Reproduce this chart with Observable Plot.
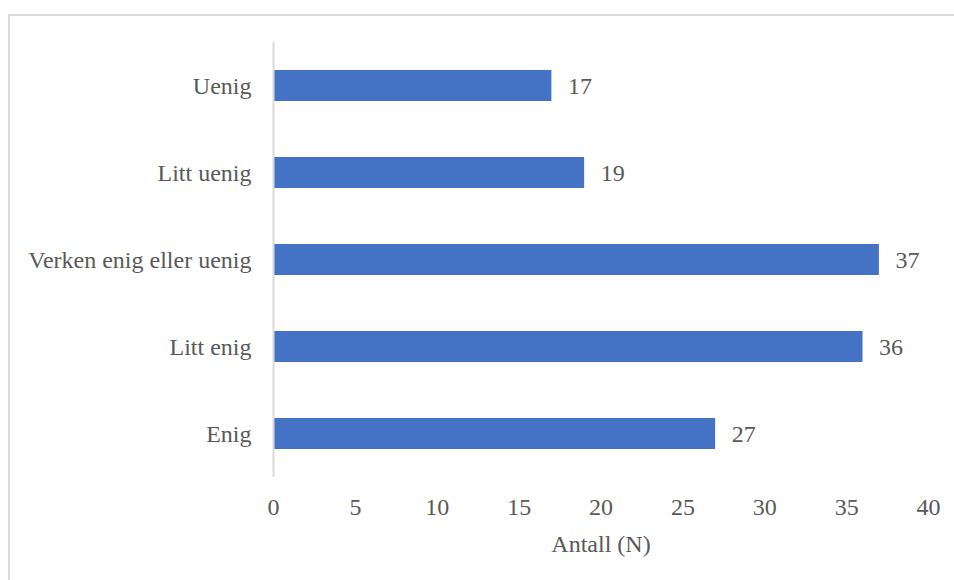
<!DOCTYPE html>
<html>
<head>
<meta charset="utf-8">
<script src="https://cdn.jsdelivr.net/npm/d3@7"></script>
<script src="https://cdn.jsdelivr.net/npm/@observablehq/plot@0.6"></script>
<style>
  html, body { margin: 0; padding: 0; background: #fff; overflow: hidden; }
  #wrap { position: relative; width: 954px; height: 580px; }
  #frame {
    position: absolute; left: 8px; top: 14px; width: 960px; height: 600px;
    border-left: 2px solid #dadada; border-top: 2px solid #dadada;
    box-sizing: border-box; pointer-events: none;
  }
  #chart { position: absolute; left: 0; top: 0; }
  #chart svg, #chart svg text { font-family: "Times New Roman", "Liberation Serif", "DejaVu Serif", serif !important; }
</style>
</head>
<body>
<div id="wrap"><div id="frame"></div><div id="chart"></div></div>
<script>
// Survey answers, top to bottom
const categories = ["Uenig", "Litt uenig", "Verken enig eller uenig", "Litt enig", "Enig"];
const counts = [17, 19, 37, 36, 27];
const xTicks = [0, 5, 10, 15, 20, 25, 30, 35, 40];
const xTitle = "Antall (N)";

const rows = categories.map((c, i) => ({category: c, count: counts[i]}));

const textColor = "#595959";
const barColor = "#4472C4";
const font = "'Times New Roman', 'Liberation Serif', 'DejaVu Serif', serif";

const chart = Plot.plot({
  width: 954,
  height: 580,
  marginLeft: 273,
  marginRight: 26,
  marginTop: 42,
  marginBottom: 103,
  style: {fontFamily: font, fontSize: "24px", color: textColor, background: "transparent", overflow: "visible"},
  x: {domain: [0, 40], ticks: xTicks},
  y: {domain: categories, paddingInner: 0.647, paddingOuter: 0.3235},
  marks: [
    Plot.barX(rows, {x: "count", y: "category", fill: barColor}),
    Plot.ruleX([0], {stroke: "#d9d9d9", strokeWidth: 2}),
    Plot.text(rows, {x: "count", y: "category", text: d => String(d.count), textAnchor: "start", dx: 16, fill: textColor, fontSize: 24}),
    Plot.axisX({ticks: xTicks, tickSize: 0, tickPadding: 20, label: null, fill: textColor, fontSize: 24}),
    Plot.axisY({tickSize: 0, tickPadding: 22, label: null, fill: textColor, fontSize: 24}),
    Plot.text([xTitle], {frameAnchor: "bottom", dy: 67, lineAnchor: "middle", textAnchor: "middle", fill: textColor, fontSize: 24})
  ]
});

document.getElementById("chart").appendChild(chart);
</script>
</body>
</html>
